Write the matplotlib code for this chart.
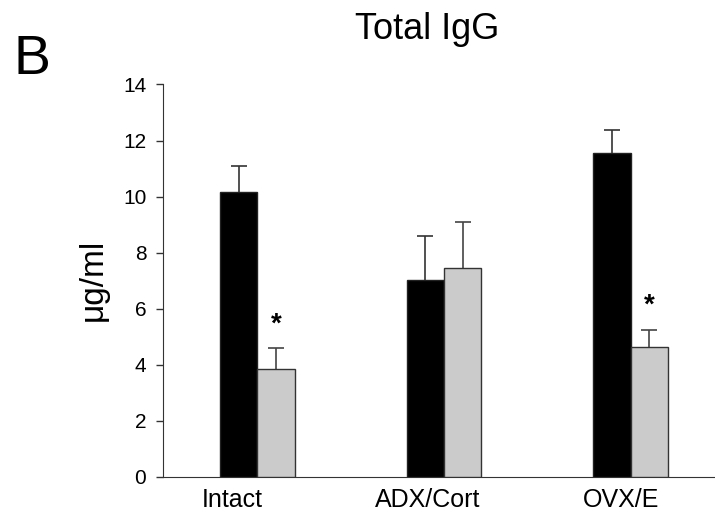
import numpy as np
import matplotlib
matplotlib.use('Agg')
import matplotlib.pyplot as plt

plt.rcParams['font.family'] = ['Liberation Sans', 'DejaVu Sans']

# data
groups = ['Intact', 'ADX/Cort', 'OVX/E']
black_vals = [10.15, 7.02, 11.54]
black_err = [0.95, 1.58, 0.85]
gray_vals = [3.83, 7.46, 4.64]
gray_err = [0.76, 1.64, 0.61]
signif = [True, False, True]   # star over the gray bar

x = np.arange(len(groups))
w = 0.2

fig = plt.figure(figsize=(7.15, 5.19), dpi=100)
ax = fig.add_axes([0.228, 0.0815, 0.772, 0.7557])

# bars over the error bars so only the upper half shows
ax.bar(x - w/2, black_vals, w, color='black', edgecolor='#222222', linewidth=1, zorder=3)
ax.bar(x + w/2, gray_vals, w, color='#cbcbcb', edgecolor='#333333', linewidth=1, zorder=3)
ax.errorbar(x - w/2, black_vals, yerr=black_err, fmt='none', ecolor='#333333',
            elinewidth=1.2, capsize=6, capthick=1.2, zorder=2)
ax.errorbar(x + w/2, gray_vals, yerr=gray_err, fmt='none', ecolor='#444444',
            elinewidth=1.2, capsize=6, capthick=1.2, zorder=2)

for i in range(len(groups)):
    if signif[i]:
        ax.annotate('*', (x[i] + w/2, gray_vals[i] + gray_err[i]), xytext=(0, 17),
                    textcoords='offset points', ha='center', va='center',
                    fontsize=20, fontweight='bold')

ax.set_xlim(-0.505, 2.452)
ax.set_ylim(0, 14)
ax.set_yticks(range(0, 15, 2))
ax.tick_params(axis='y', labelsize=15, length=5, width=1, pad=7, color='#333333')
ax.set_xticks([-0.135, 0.914, 1.948])
ax.set_xticklabels(groups, fontsize=18)
ax.tick_params(axis='x', length=0, pad=8)

ax.spines['top'].set_visible(False)
ax.spines['right'].set_visible(False)
ax.spines['left'].set_color('#333333')
ax.spines['bottom'].set_color('#333333')

fig.text(93/715, 1 - 280/519, 'μg/ml', rotation=90, ha='center', va='center', fontsize=24)
fig.text(427/715, 1 - 39/519, 'Total IgG', ha='center', va='baseline', fontsize=26)
fig.text(14/715, 1 - 74/519, 'B', ha='left', va='baseline', fontsize=40)

fig.savefig('out.png', dpi=100)
